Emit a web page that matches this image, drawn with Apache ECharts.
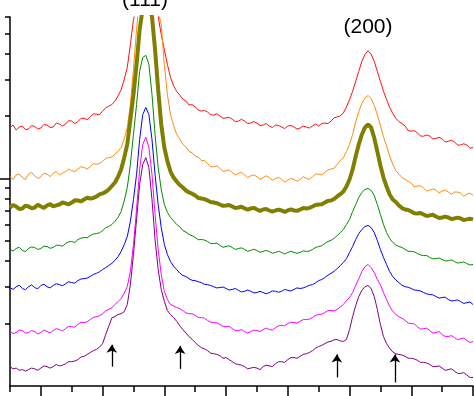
<!DOCTYPE html>
<html><head><meta charset="utf-8">
<script src="https://cdn.jsdelivr.net/npm/echarts@6/dist/echarts.min.js"></script>
<style>html,body{margin:0;padding:0;background:#fff}#c{width:474px;height:396px}</style>
</head><body><div id="c"></div>
<script>
const twoTheta = [39.0,39.1,39.2,39.3,39.4,39.5,39.6,39.7,39.8,39.9,40.0,40.1,40.2,40.3,40.4,40.5,40.6,40.7,40.8,40.9,
  41.0,41.1,41.2,41.3,41.4,41.5,41.6,41.7,41.8,41.9,42.0,42.1,42.2,42.3,42.4,42.5,42.6,42.7,42.8,42.9,
  43.0,43.1,43.2,43.3,43.4,43.5,43.6,43.7,43.8,43.9,44.0,44.1,44.2,44.3,44.4,44.5,44.6,44.7,44.8,44.9,
  45.0,45.1,45.2,45.3,45.4,45.5,45.6,45.7,45.8,45.9,46.0,46.1,46.2,46.3,46.4,46.5,46.6,46.7,46.8,46.9,
  47.0,47.1,47.2,47.3,47.4,47.5,47.6,47.7,47.8,47.9,48.0,48.1,48.2,48.3,48.4,48.5,48.6,48.7,48.8,48.9,
  49.0,49.1,49.2,49.3,49.4,49.5,49.6,49.7,49.8,49.9,50.0,50.1,50.2,50.3,50.4,50.5,50.6,50.7,50.8,50.9,
  51.0,51.1,51.2,51.3,51.4,51.5,51.6,51.7,51.8,51.9,52.0,52.1,52.2,52.3,52.4,52.5,52.6,52.7,52.8,52.9,
  53.0,53.1,53.2,53.3,53.4,53.5,53.6,53.7,53.8,53.9,54.0];

const red = [1.76,1.81,1.71,1.77,1.79,1.72,1.73,1.80,1.78,1.73,1.75,1.82,1.81,1.76,1.77,1.85,1.83,1.79,1.83,1.90,
  1.89,1.84,1.88,1.95,1.95,1.92,1.98,2.05,2.04,2.03,2.11,2.19,2.23,2.27,2.36,2.50,2.68,3.00,3.43,4.42,
  5.84,6.7,8.6,11,12,11,9.0,7.2,6.03,4.94,4.18,3.54,3.07,2.80,2.63,2.52,2.41,2.36,2.26,2.27,
  2.21,2.14,2.11,2.13,2.09,2.03,2.02,2.05,2.00,1.95,1.96,1.97,1.93,1.88,1.89,1.93,1.89,1.84,1.85,1.88,
  1.85,1.80,1.81,1.84,1.79,1.76,1.81,1.80,1.77,1.74,1.79,1.80,1.77,1.73,1.75,1.79,1.77,1.75,1.79,1.83,
  1.79,1.84,1.85,1.84,1.89,1.96,1.98,2.00,2.07,2.21,2.40,2.63,2.94,3.28,3.67,3.96,4.13,3.96,3.67,3.28,
  2.94,2.63,2.40,2.20,2.06,1.95,1.88,1.84,1.79,1.70,1.69,1.70,1.66,1.60,1.60,1.62,1.60,1.55,1.56,1.58,
  1.55,1.50,1.51,1.53,1.50,1.45,1.45,1.47,1.45,1.40,1.41];
const orange = [1.02,0.99,1.04,1.05,1.01,0.99,1.05,1.07,1.03,1.00,1.02,1.06,1.05,1.02,1.06,1.08,1.04,1.06,1.08,1.11,
  1.09,1.08,1.11,1.14,1.13,1.11,1.14,1.18,1.17,1.18,1.21,1.25,1.26,1.27,1.31,1.35,1.41,1.55,1.76,2.27,
  3.35,5.22,7.5,9.5,10.5,9.5,8.0,7.0,6.4,5.52,3.54,2.54,2.03,1.80,1.63,1.55,1.46,1.42,1.35,1.33,
  1.28,1.27,1.22,1.22,1.18,1.14,1.14,1.15,1.12,1.08,1.09,1.10,1.07,1.04,1.06,1.07,1.04,1.01,1.03,1.04,
  1.02,0.99,1.01,1.03,1.01,0.98,1.00,1.01,0.99,0.96,0.98,1.00,0.99,0.97,0.99,1.02,1.00,0.99,1.02,1.05,
  1.05,1.04,1.07,1.10,1.11,1.12,1.17,1.22,1.26,1.35,1.46,1.63,1.88,2.10,2.30,2.45,2.51,2.43,2.25,2.03,
  1.80,1.59,1.43,1.28,1.17,1.09,1.05,1.01,0.99,0.97,0.95,0.91,0.92,0.92,0.90,0.87,0.88,0.89,0.88,0.85,
  0.87,0.88,0.86,0.84,0.86,0.86,0.85,0.82,0.84,0.85,0.83];
const olive = [0.725,0.745,0.733,0.712,0.717,0.740,0.733,0.718,0.725,0.748,0.733,0.722,0.741,0.752,0.733,0.742,0.749,0.766,0.758,0.750,
  0.766,0.785,0.783,0.775,0.792,0.808,0.801,0.806,0.819,0.838,0.847,0.862,0.885,0.920,0.957,1.02,1.105,1.26,1.46,1.92,
  2.54,3.54,5.22,6.6,7.2,6.8,6.03,4.18,2.68,1.82,1.41,1.21,1.08,1.01,0.967,0.930,0.905,0.875,0.856,0.845,
  0.828,0.806,0.801,0.795,0.783,0.770,0.766,0.760,0.749,0.738,0.741,0.745,0.733,0.720,0.725,0.732,0.717,0.708,0.717,0.722,
  0.709,0.698,0.709,0.712,0.701,0.692,0.701,0.708,0.701,0.690,0.701,0.710,0.701,0.698,0.709,0.720,0.717,0.722,0.733,0.745,
  0.749,0.752,0.766,0.780,0.783,0.796,0.819,0.840,0.866,0.915,0.989,1.105,1.28,1.46,1.63,1.76,1.82,1.76,1.57,1.35,
  1.155,1.01,0.915,0.837,0.792,0.770,0.741,0.720,0.709,0.705,0.693,0.680,0.678,0.682,0.671,0.660,0.664,0.668,0.656,0.645,
  0.649,0.655,0.649,0.638,0.642,0.648,0.642,0.630,0.635,0.640,0.635];
const green = [0.455,0.447,0.460,0.466,0.450,0.444,0.460,0.468,0.465,0.455,0.460,0.472,0.470,0.461,0.465,0.477,0.476,0.472,0.486,0.495,
  0.497,0.491,0.508,0.516,0.519,0.518,0.531,0.540,0.543,0.547,0.561,0.578,0.587,0.600,0.621,0.650,0.693,0.780,0.905,1.168,
  1.63,2.27,3.28,3.83,3.92,3.54,2.54,1.63,1.13,0.885,0.749,0.686,0.649,0.625,0.600,0.585,0.561,0.552,0.537,0.530,
  0.519,0.507,0.508,0.505,0.497,0.486,0.486,0.488,0.476,0.466,0.470,0.474,0.465,0.455,0.460,0.463,0.455,0.446,0.450,0.456,
  0.450,0.441,0.445,0.450,0.445,0.436,0.440,0.446,0.440,0.433,0.440,0.446,0.440,0.436,0.440,0.448,0.445,0.447,0.455,0.465,
  0.470,0.474,0.486,0.497,0.503,0.515,0.531,0.548,0.568,0.600,0.635,0.693,0.749,0.810,0.856,0.885,0.895,0.876,0.828,0.749,
  0.671,0.600,0.549,0.514,0.492,0.478,0.470,0.465,0.455,0.446,0.445,0.443,0.435,0.428,0.425,0.426,0.416,0.410,0.411,0.414,
  0.407,0.400,0.402,0.405,0.398,0.391,0.394,0.396,0.389,0.383,0.385];
const blue = [0.298,0.292,0.301,0.306,0.295,0.291,0.301,0.307,0.298,0.294,0.305,0.309,0.301,0.297,0.305,0.311,0.308,0.304,0.311,0.318,
  0.315,0.313,0.322,0.328,0.329,0.331,0.337,0.345,0.349,0.355,0.364,0.372,0.381,0.390,0.403,0.420,0.445,0.480,0.525,0.621,
  0.792,1.045,1.54,2.03,2.20,2.03,1.54,1.045,0.749,0.580,0.481,0.430,0.398,0.378,0.364,0.350,0.341,0.337,0.329,0.323,
  0.322,0.318,0.315,0.309,0.308,0.305,0.301,0.297,0.298,0.300,0.295,0.290,0.292,0.295,0.289,0.284,0.286,0.290,0.286,0.281,
  0.282,0.286,0.282,0.278,0.282,0.287,0.286,0.283,0.286,0.292,0.289,0.287,0.292,0.297,0.295,0.297,0.301,0.306,0.308,0.314,
  0.322,0.326,0.333,0.342,0.349,0.357,0.368,0.380,0.394,0.411,0.440,0.470,0.508,0.543,0.568,0.587,0.594,0.580,0.549,0.503,
  0.455,0.416,0.385,0.356,0.337,0.324,0.315,0.306,0.301,0.299,0.295,0.290,0.289,0.287,0.282,0.278,0.276,0.275,0.270,0.265,
  0.267,0.268,0.261,0.257,0.258,0.260,0.255,0.250,0.252,0.254,0.247];
const magenta = [0.183,0.179,0.181,0.186,0.185,0.180,0.181,0.185,0.183,0.178,0.181,0.186,0.183,0.180,0.185,0.189,0.187,0.184,0.189,0.194,
  0.193,0.192,0.198,0.203,0.202,0.204,0.209,0.214,0.216,0.218,0.223,0.230,0.234,0.238,0.247,0.255,0.264,0.280,0.302,0.356,
  0.481,0.709,1.105,1.46,1.58,1.41,1.045,0.671,0.455,0.345,0.286,0.261,0.247,0.243,0.239,0.236,0.231,0.225,0.223,0.223,
  0.219,0.214,0.214,0.212,0.207,0.203,0.202,0.202,0.198,0.194,0.193,0.194,0.189,0.185,0.185,0.187,0.183,0.180,0.183,0.186,
  0.185,0.183,0.187,0.190,0.187,0.186,0.191,0.195,0.196,0.195,0.200,0.203,0.202,0.201,0.205,0.209,0.209,0.210,0.214,0.219,
  0.221,0.222,0.226,0.231,0.231,0.230,0.234,0.240,0.247,0.258,0.267,0.282,0.305,0.329,0.356,0.376,0.385,0.372,0.352,0.326,
  0.308,0.282,0.261,0.242,0.229,0.221,0.216,0.212,0.207,0.201,0.200,0.199,0.193,0.188,0.189,0.190,0.185,0.180,0.181,0.183,
  0.177,0.173,0.173,0.175,0.171,0.167,0.169,0.170,0.166,0.162,0.164];
const purple = [0.124,0.121,0.122,0.119,0.120,0.118,0.120,0.122,0.121,0.119,0.122,0.125,0.124,0.122,0.124,0.127,0.125,0.126,0.128,0.131,
  0.131,0.132,0.134,0.138,0.139,0.142,0.145,0.148,0.150,0.154,0.160,0.177,0.194,0.213,0.216,0.221,0.223,0.228,0.247,0.308,
  0.430,0.635,0.936,1.168,1.26,1.13,0.792,0.508,0.364,0.292,0.256,0.231,0.221,0.214,0.205,0.195,0.187,0.180,0.173,0.168,
  0.162,0.157,0.153,0.151,0.148,0.144,0.143,0.142,0.140,0.136,0.137,0.134,0.131,0.128,0.127,0.126,0.124,0.121,0.122,0.123,
  0.122,0.120,0.124,0.126,0.125,0.124,0.128,0.131,0.131,0.130,0.134,0.137,0.137,0.136,0.139,0.142,0.143,0.145,0.148,0.152,
  0.155,0.157,0.160,0.163,0.164,0.167,0.1675,0.165,0.164,0.1675,0.187,0.216,0.244,0.270,0.289,0.301,0.305,0.295,0.270,0.234,
  0.198,0.173,0.160,0.152,0.146,0.143,0.142,0.141,0.139,0.136,0.136,0.135,0.133,0.130,0.130,0.129,0.127,0.124,0.124,0.125,
  0.122,0.119,0.120,0.121,0.118,0.115,0.115,0.116,0.113,0.110,0.110];

const majorXTicks = [40,42,44,46,48,50,52,54];
const minorXTicks = [39,41,43,45,47,49,51,53];
const minorYTicks = [0.2,0.3,0.4,0.5,0.6,0.7,0.8,0.9,2,3,4,5,6];
const majorYTicks = [1];
const peakLabels = ['(111)','(200)'];
const arrowX = [42.30,44.51,49.59,51.47];
const arrowBottom = [0.124,0.121,0.110,0.104];
const arrowTop = [0.158,0.156,0.142,0.142];

const curves = [
  {name:'s1', data:red, color:'#ff1010', width:1},
  {name:'s2', data:orange, color:'#ff8a10', width:1},
  {name:'s3', data:olive, color:'#808000', width:4},
  {name:'s4', data:green, color:'#008a00', width:1},
  {name:'s5', data:blue, color:'#0000ff', width:1},
  {name:'s6', data:magenta, color:'#ff00ff', width:1},
  {name:'s7', data:purple, color:'#800080', width:1}
];

const series = curves.map(c => ({
  type:'line', name:c.name, data: twoTheta.map((x,i)=>[x,c.data[i]]),
  showSymbol:false, symbol:'none', clip:true, animation:false,
  lineStyle:{color:c.color, width:c.width}, itemStyle:{color:c.color}
}));
series[6].markLine = {
  silent:true, animation:false, symbol:['none','arrow'], symbolSize:8,
  label:{show:false},
  lineStyle:{color:'#000', width:1.3, type:'solid'},
  data: arrowX.map((x,i)=>[{coord:[x,arrowBottom[i]]},{coord:[x,arrowTop[i]]}])
};

const axisBase = {
  axisLabel:{show:false}, splitLine:{show:false}, minorTick:{show:false}
};
const labelFont = '21px "Liberation Sans", Arial, sans-serif';
const chart = echarts.init(document.getElementById('c'), null, {renderer:'canvas'});
chart.setOption({
  animation:false,
  backgroundColor:'#fff',
  grid:{left:10, right:1, top:17, bottom:10, containLabel:false, outerBoundsMode:'none'},
  xAxis:[
    Object.assign({type:'value', min:39, max:54, interval:1, position:'bottom',
      axisLine:{show:true, onZero:false, lineStyle:{color:'#000', width:1.5}},
      axisTick:{show:true, customValues:majorXTicks, length:11, lineStyle:{color:'#000', width:1.5}}}, axisBase),
    Object.assign({type:'value', min:39, max:54, interval:1, position:'bottom',
      axisLine:{show:false, onZero:false},
      axisTick:{show:true, customValues:minorXTicks, length:6, lineStyle:{color:'#000', width:1.5}}}, axisBase)
  ],
  yAxis:[
    Object.assign({type:'log', logBase:10, min:0.1, max:6, position:'left',
      axisLine:{show:true, onZero:false, lineStyle:{color:'#000', width:1.5}},
      axisTick:{show:true, customValues:minorYTicks, length:5, lineStyle:{color:'#000', width:1.5}}}, axisBase),
    Object.assign({type:'log', logBase:10, min:0.1, max:6, position:'left', offset:0,
      axisLine:{show:false, onZero:false},
      axisTick:{show:true, customValues:majorYTicks, length:11, lineStyle:{color:'#000', width:1.5}}}, axisBase)
  ],
  graphic:[
    {type:'text', position:[145,0], style:{text:peakLabels[0], x:0, y:0, font:labelFont, fill:'#000', textAlign:'center', textVerticalAlign:'middle'}},
    {type:'text', position:[368,27], style:{text:peakLabels[1], x:0, y:0, font:labelFont, fill:'#000', textAlign:'center', textVerticalAlign:'middle'}}
  ],
  series: series
});
</script></body></html>
